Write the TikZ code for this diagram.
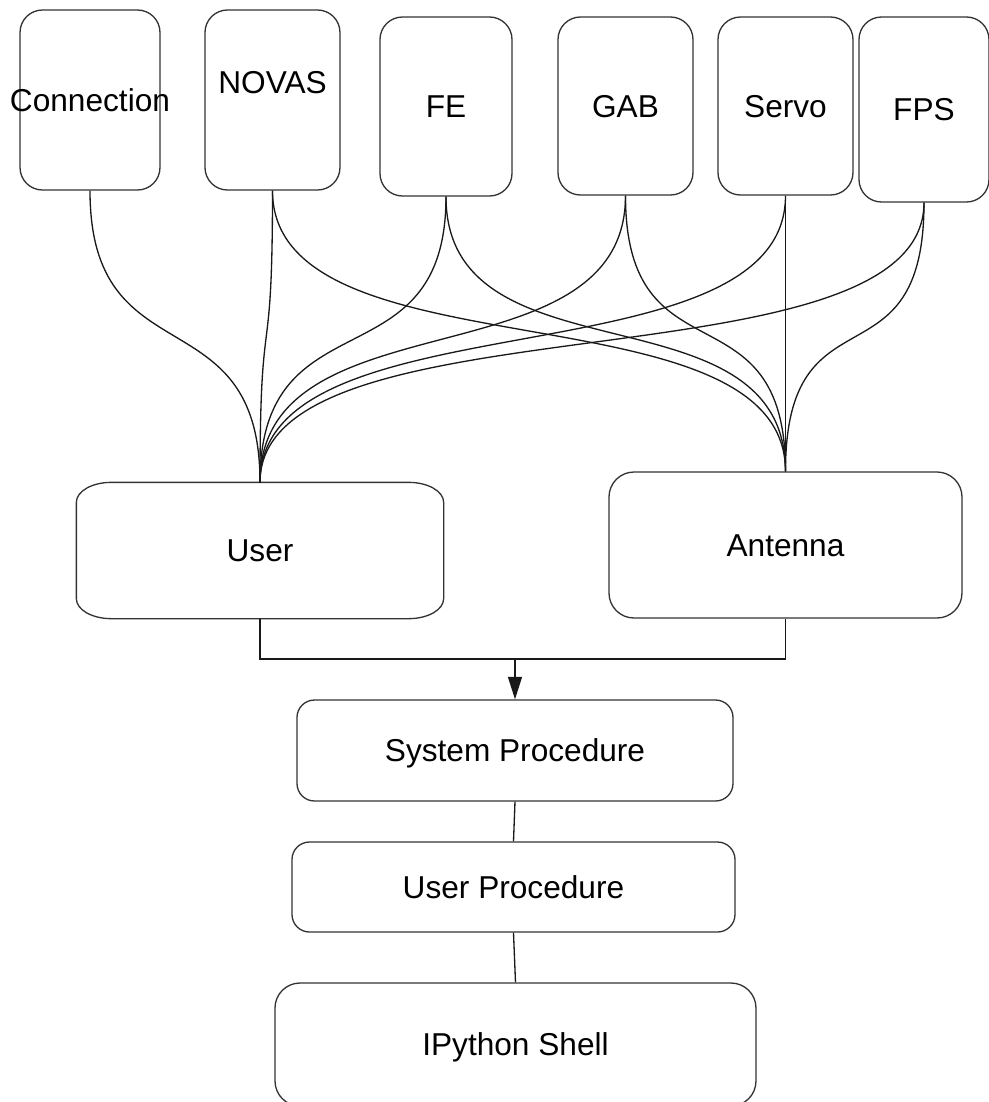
\documentclass[tikz,border=0pt]{standalone}
\usepackage{fontspec}
\setmainfont{Liberation Sans}
\usetikzlibrary{arrows.meta,positioning}

\begin{document}
\begin{tikzpicture}[
		box/.style={draw=black!80, line width=0.75pt, rounded corners=0.45cm, inner sep=0pt,
			text height=12.9pt, text depth=0pt, font=\fontsize{18}{22}\selectfont},
		userbox/.style={box, draw=none},
		link/.style={line width=0.75pt, black!90}
	]
	\useasboundingbox (0,0) rectangle (19.78,-22.04);
	% Top row of modules
	\node[box, minimum width=2.8cm, minimum height=3.6cm] (conn) at (1.8,-2.0) {\makebox[0pt]{Connection}};
	\node[box, minimum width=2.7cm, minimum height=3.6cm, text depth=0.72cm] (novas) at (5.45,-2.0) {NOVAS};
	\node[box, minimum width=2.64cm, minimum height=3.58cm] (fe) at (8.92,-2.13) {FE};
	\node[box, minimum width=2.7cm, minimum height=3.56cm] (gab) at (12.51,-2.12) {GAB};
	\node[box, minimum width=2.7cm, minimum height=3.56cm] (servo) at (15.71,-2.12) {Servo};
	\node[box, minimum width=2.6cm, minimum height=3.7cm] (fps) at (18.48,-2.19) {FPS};
	% User and Antenna
	\node[userbox, minimum width=7.32cm, minimum height=2.7cm] (user) at (5.2,-11.01) {User};
	\node[box, rounded corners=0.5cm, minimum width=7.06cm, minimum height=2.92cm] (antenna) at (15.71,-10.9) {Antenna};
	% outline of the User box (flat corners)
	\draw[line width=0.75pt, black!80] ([xshift=0.7cm]user.north west) -- ([xshift=-0.7cm]user.north east)
		arc[start angle=90, end angle=0, x radius=0.7cm, y radius=0.4cm] -- ([yshift=0.4cm]user.south east)
		arc[start angle=0, end angle=-90, x radius=0.7cm, y radius=0.4cm] -- ([xshift=0.7cm]user.south west)
		arc[start angle=270, end angle=180, x radius=0.7cm, y radius=0.4cm] -- ([yshift=-0.4cm]user.north west)
		arc[start angle=180, end angle=90, x radius=0.7cm, y radius=0.4cm] -- cycle;
	% Procedures and shell
	\node[box, rounded corners=0.35cm, minimum width=8.72cm, minimum height=2.02cm] (sysproc) at (10.3,-15.01) {System Procedure};
	\node[box, rounded corners=0.35cm, minimum width=8.86cm, minimum height=1.8cm] (userproc) at (10.27,-17.74) {User Procedure};
	\node[box, rounded corners=0.5cm, minimum width=9.62cm, minimum height=2.46cm] (ipython) at (10.31,-20.89) {IPython Shell};
	% Curved links from the modules
	\foreach \src in {conn,novas,fe,gab,servo,fps}
		\draw[link] (\src.south) .. controls +(0,-3.8) and +(0,3.8) .. (user.north);
	\foreach \src in {novas,fe,gab,servo,fps}
		\draw[link] (\src.south) .. controls +(0,-3.8) and +(0,3.8) .. (antenna.north);
	% Merge into System Procedure
	\coordinate (merge) at (10.3,-13.18);
	\draw[link] (user.south) |- (merge) -| (antenna.south);
	\draw[link, -{Triangle[length=0.45cm, width=0.28cm]}] (merge) -- (sysproc.north);
	% Straight links below
	\draw[link] (sysproc.south) -- (userproc.north);
	\draw[link] (userproc.south) -- (ipython.north);
\end{tikzpicture}
\end{document}
